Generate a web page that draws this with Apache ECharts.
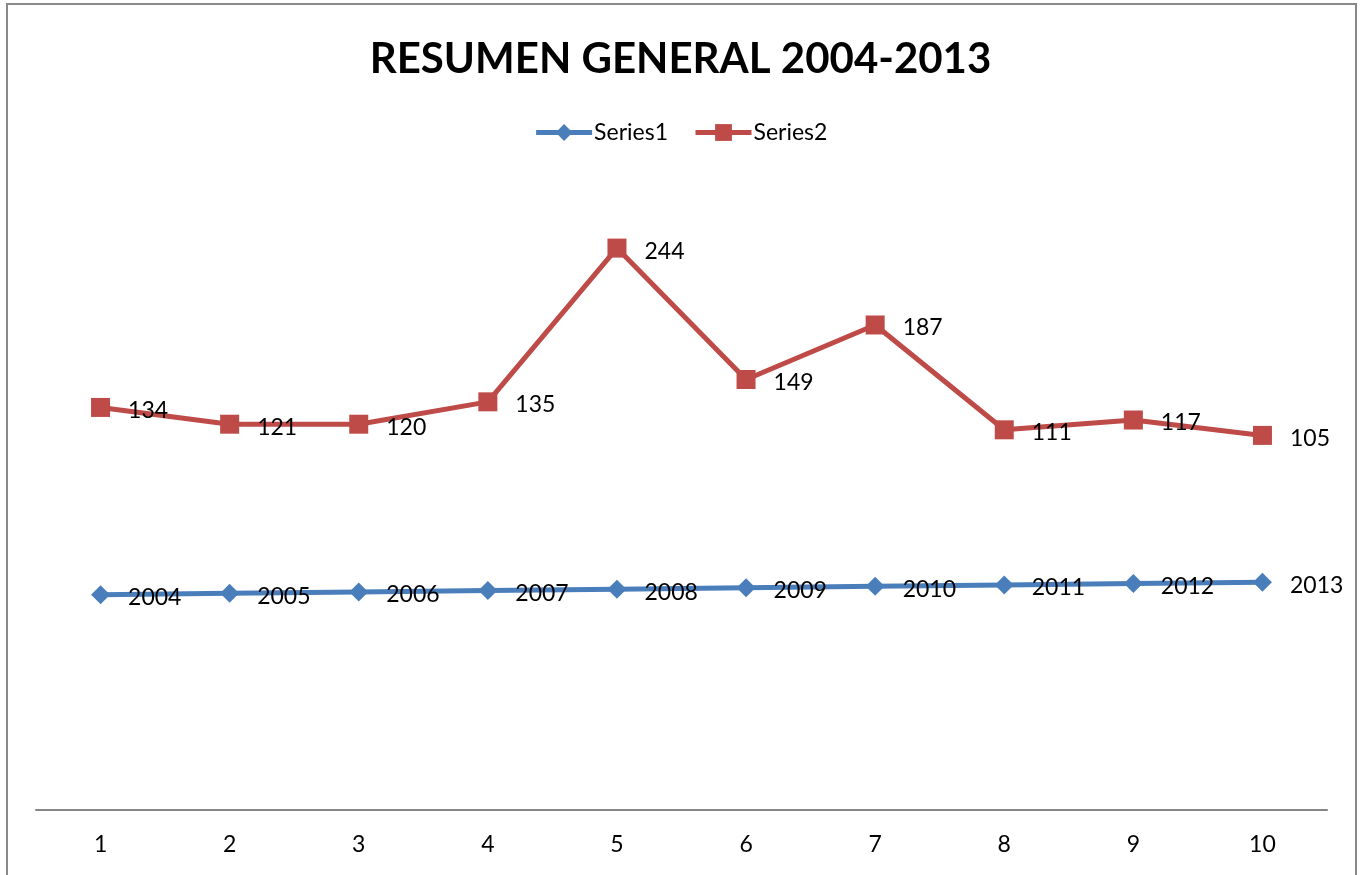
<!DOCTYPE html>
<html>
<head>
<meta charset="utf-8">
<title>RESUMEN GENERAL 2004-2013</title>
<script src="https://cdn.jsdelivr.net/npm/echarts@6/dist/echarts.min.js"></script>
<style>
  html, body { margin: 0; padding: 0; background: #fff; }
  #chart { width: 1361px; height: 875px; }
</style>
</head>
<body>
<div id="chart"></div>
<script>
// Categories along the horizontal axis
const categories = ['1', '2', '3', '4', '5', '6', '7', '8', '9', '10'];
// Year per point (first series)
const series1 = [2004, 2005, 2006, 2007, 2008, 2009, 2010, 2011, 2012, 2013];
// Totals per year (second series, stacked on the first)
const series2 = [134, 121, 120, 135, 244, 149, 187, 111, 117, 105];
const seriesNames = ['Series1', 'Series2'];
const titleText = 'RESUMEN GENERAL 2004-2013';

const FONT = 'Lato, "Open Sans", sans-serif';
const BLUE = '#4A7EBB';
const RED = '#BE4B48';

const chart = echarts.init(document.getElementById('chart'), null, { renderer: 'canvas' });

const labelStyle = {
  show: true,
  position: 'right',
  distance: 18,
  offset: [0, 3],
  color: '#000',
  fontFamily: FONT,
  fontSize: 23
};

chart.setOption({
  animation: false,
  backgroundColor: '#fff',
  graphic: [{
    type: 'rect',
    shape: { x: 7, y: 4, width: 1349, height: 900 },
    style: { fill: 'none', stroke: '#898989', lineWidth: 2 },
    silent: true,
    z: -1
  }],
  title: {
    text: titleText,
    left: 'center',
    top: 33,
    textStyle: { fontFamily: FONT, fontWeight: 'bold', fontSize: 42, color: '#000' }
  },
  legend: {
    top: 116,
    left: 'center',
    itemWidth: 56,
    itemHeight: 21,
    itemGap: 25,
    lineStyle: { width: 5 },
    textStyle: { fontFamily: FONT, fontSize: 23, color: '#000', padding: [0, 0, 0, -3] },
    data: seriesNames
  },
  grid: { left: 36, right: 34, top: 181, bottom: 65 },
  xAxis: {
    type: 'category',
    data: categories,
    boundaryGap: true,
    axisLine: { lineStyle: { color: '#868686', width: 2 } },
    axisTick: { show: false },
    axisLabel: { color: '#000', fontFamily: FONT, fontSize: 23, margin: 23 }
  },
  yAxis: {
    type: 'value',
    min: 1850,
    max: 2300,
    interval: 50,
    show: false,
    splitLine: { show: false }
  },
  series: [
    {
      name: seriesNames[0],
      type: 'line',
      stack: 'total',
      data: series1,
      symbol: 'diamond',
      symbolSize: 19,
      lineStyle: { color: BLUE, width: 5 },
      itemStyle: { color: BLUE },
      label: labelStyle
    },
    {
      name: seriesNames[1],
      type: 'line',
      stack: 'total',
      data: series2,
      symbol: 'rect',
      symbolSize: 19,
      lineStyle: { color: RED, width: 5 },
      itemStyle: { color: RED },
      label: labelStyle
    }
  ]
});
</script>
</body>
</html>
